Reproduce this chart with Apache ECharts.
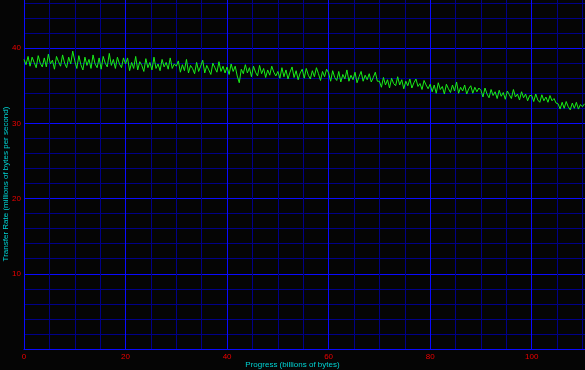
<!DOCTYPE html>
<html>
<head>
<meta charset="utf-8">
<script src="https://cdn.jsdelivr.net/npm/echarts@6/dist/echarts.min.js"></script>
<style>html,body{margin:0;padding:0;background:#050505;}#c{width:585px;height:370px;}</style>
</head>
<body>
<div id="c"></div>
<script>
// Progress step between samples (billions of bytes)
const sampleStep = 0.4;
// Transfer rate samples (millions of bytes per second)
const transferRate = [
38.5,37.8,38.9,37.6,38.8,38.1,37.4,39.0,38.0,37.5,38.7,37.5,39.2,37.9,38.4,37.2,38.9,38.2,37.6,39.1,38.0,37.4,38.8,37.9,39.6,
38.3,37.3,39.0,37.8,37.1,38.8,37.7,38.5,37.3,39.1,37.9,37.4,38.7,37.2,38.9,38.0,37.5,39.3,37.7,38.5,37.3,38.8,37.9,37.4,38.7,
37.9,38.7,37.0,38.1,37.3,38.9,37.1,38.2,37.7,36.9,38.6,37.4,38.1,37.1,38.8,37.3,37.9,37.0,38.5,37.5,38.1,37.2,38.7,37.3,37.9,
37.6,38.3,36.8,37.8,37.0,38.5,36.7,37.7,37.3,36.6,38.1,36.9,37.6,38.4,36.7,37.7,37.1,36.5,38.0,37.4,36.8,38.2,36.9,37.6,36.7,
37.5,36.5,37.9,36.9,37.6,36.3,35.4,37.2,36.6,37.8,36.7,37.4,36.2,37.6,36.8,36.3,37.7,36.6,37.3,36.1,37.1,36.4,37.6,36.8,36.3,
36.9,36.0,37.4,36.2,37.1,35.9,36.8,37.5,36.1,37.0,35.8,36.7,37.2,36.0,37.3,36.4,35.9,37.0,36.2,37.4,36.6,35.7,36.9,36.2,37.2,
36.7,35.6,37.0,36.1,35.7,36.9,35.5,36.5,35.9,37.1,35.6,36.4,35.8,36.8,35.4,36.2,36.9,35.6,36.4,35.8,36.6,35.5,36.1,36.8,35.6,
35.6,34.8,36.1,35.1,35.8,34.7,36.0,35.3,35.0,36.2,35.1,35.8,34.6,35.6,35.0,35.9,34.7,35.4,35.9,34.9,35.3,34.5,35.7,35.1,34.6,
35.2,34.2,35.1,34.0,35.4,34.5,34.9,33.9,35.2,34.6,34.1,35.1,34.3,35.5,34.0,34.8,34.3,35.1,33.9,34.6,35.0,34.0,34.8,34.2,34.7,
34.4,33.5,34.7,33.9,33.4,34.5,33.7,34.2,33.3,34.4,33.6,34.1,33.2,34.3,33.8,33.3,34.5,33.5,33.9,33.1,34.2,33.4,33.9,33.0,33.7,
33.7,32.9,33.9,33.1,32.8,33.8,33.0,33.5,32.8,33.7,33.0,33.3,32.7,
32.6,31.9,32.8,32.0,32.9,32.2,31.8,32.7,32.0,32.8,31.9,32.5,32.2,32.6
];
const xTickLabels = [0, 20, 40, 60, 80, 100];
const yTickLabels = [10, 20, 30, 40];
const xTitle = 'Progress (billions of bytes)';
const yTitle = 'Transfer Rate (millions of bytes per second)';

const seriesData = transferRate.map((v, i) => [+(i * sampleStep).toFixed(2), v]);

const BRIGHT = '#0a0aff', DIM = '#000088', RED = '#f00000', CYAN = '#00d4d4';
const labelFont = { color: RED, fontSize: 8, fontFamily: 'Liberation Sans' };
const XMAX = 110.5, YMAX = 46.4;

const chart = echarts.init(document.getElementById('c'), null, { renderer: 'canvas' });
chart.setOption({
  animation: false,
  backgroundColor: '#050505',
  grid: { left: 24, right: 0, top: 0, bottom: 21, containLabel: false },
  xAxis: [
    { type: 'value', min: 0, max: XMAX, interval: 5, position: 'bottom',
      axisLine: { show: false }, axisTick: { show: false }, axisLabel: { show: false },
      splitLine: { show: true, showMaxLine: false, showMinLine: false, lineStyle: { color: DIM, width: 1 } } },
    { type: 'value', min: 0, max: XMAX, interval: 20, position: 'bottom',
      axisLine: { show: true, lineStyle: { color: BRIGHT, width: 1 } },
      axisTick: { show: false },
      axisLabel: Object.assign({}, labelFont, {
        margin: 4, showMaxLabel: false,
        formatter: v => xTickLabels.includes(v) ? String(v) : ''
      }),
      splitLine: { show: true, showMaxLine: false, lineStyle: { color: BRIGHT, width: 1 } } }
  ],
  yAxis: [
    { type: 'value', min: 0, max: YMAX, interval: 2, position: 'left',
      axisLine: { show: false }, axisTick: { show: false }, axisLabel: { show: false },
      splitLine: { show: true, showMaxLine: false, showMinLine: false, lineStyle: { color: DIM, width: 1 } } },
    { type: 'value', min: 0, max: YMAX, interval: 10, position: 'left',
      axisLine: { show: true, lineStyle: { color: BRIGHT, width: 1 } },
      axisTick: { show: false },
      axisLabel: Object.assign({}, labelFont, {
        margin: 3, showMaxLabel: false,
        formatter: v => yTickLabels.includes(v) ? String(v) : ''
      }),
      splitLine: { show: true, showMaxLine: false, lineStyle: { color: BRIGHT, width: 1 } } }
  ],
  graphic: [
    { type: 'text', left: 'center', top: 361, style: { text: xTitle, fill: CYAN, fontSize: 8, fontFamily: 'Liberation Sans' } },
    { type: 'text', x: 5.5, y: 184, rotation: Math.PI / 2,
      style: { text: yTitle, fill: CYAN, fontSize: 8, fontFamily: 'Liberation Sans', align: 'center', verticalAlign: 'middle' } }
  ],
  series: [{
    type: 'line', data: seriesData, showSymbol: false, xAxisIndex: 1, yAxisIndex: 1,
    lineStyle: { color: '#1aee1a', width: 1 }, z: 5
  }]
});
</script>
</body>
</html>
